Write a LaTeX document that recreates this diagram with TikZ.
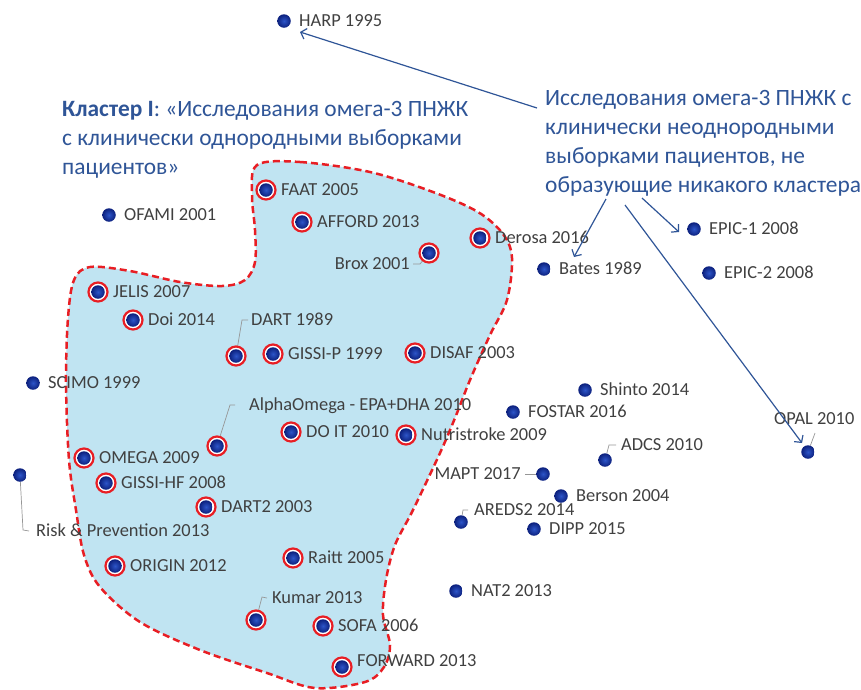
\documentclass[tikz,border=0pt]{standalone}
\usepackage{fontspec}
\setmainfont{Carlito}
\usetikzlibrary{arrows.meta,calc,backgrounds}
\definecolor{txtblue}{RGB}{47,85,151}
\definecolor{lblgray}{RGB}{64,64,64}
\definecolor{ringred}{RGB}{232,30,36}
\definecolor{blobfill}{RGB}{192,228,242}
\definecolor{dotin}{RGB}{45,85,200}
\definecolor{dotout}{RGB}{12,32,125}
\definecolor{leadgray}{RGB}{150,150,150}
\tikzset{
 dot/.style={circle, inner sep=0pt, minimum size=13.5pt, inner color=dotin, outer color=dotout},
 ring/.style={circle, inner sep=0pt, minimum size=19pt, draw=ringred, line width=2.2pt, fill=white},
 lbl/.style={anchor=west, inner sep=0pt, text=lblgray, font=\fontsize{18.4}{20}\selectfont, text height=11.8pt, text depth=0pt},
 leader/.style={draw=leadgray, line width=0.7pt},
 pointer/.style={draw=txtblue, line width=1.2pt, -{Straight Barb[length=5pt,width=11pt]}},
 heading/.style={align=left, inner sep=0pt, text=txtblue, font=\fontsize{23.4}{28.7}\selectfont},
 blob/.style={fill=blobfill, draw=ringred, line width=2.5pt, dash pattern=on 7pt off 4pt},
}
\newcommand\plainstudy[4]{\node[dot] (#1) at (#2,#3) {}; \node[lbl] (#1-l) at ([xshift=15pt]#1.center) {#4};}
\newcommand\ringstudy[4]{\node[ring] (#1-r) at (#2,#3) {}; \node[dot] (#1) at (#2,#3) {}; \node[lbl] (#1-l) at ([xshift=15pt]#1.center) {#4};}
\begin{document}
\begin{tikzpicture}[x=1pt,y=-1pt]
\useasboundingbox (0,0) rectangle (861,689);
\begin{scope}[on background layer]
\draw[blob] plot[smooth cycle, tension=0.55] coordinates {
 (257,165) (300,162) (370,172) (433,192) (478,212) (503,234) (512,258) (507,300) (490,335)
 (470,380) (455,418) (440,453) (413,510) (395,545) (386,580) (383,615) (390,645) (384,667)
 (365,682) (315,688) (267,673) (200,650) (140,622) (100,587) (84,555) (76,510) (69,460)
 (66,383) (68,318) (74,280) (90,267) (130,271) (180,282) (222,286) (245,280) (255,262)
 (255,230) (252,195)};
\end{scope}
% headings (base anchor = baseline of the last line)
\node[heading, anchor=base west] (cl1) at (62,174) {\textbf{Кластер I}: «Исследования омега-3 ПНЖК\\с клинически однородными выборками\\пациентов»};
\node[heading, anchor=base west] (other) at (545,192) {Исследования омега-3 ПНЖК с\\клинически неоднородными\\выборками пациентов, не\\образующие никакого кластера};
% studies
\plainstudy{harp}{284}{21}{HARP 1995}
\plainstudy{ofami}{109}{215}{OFAMI 2001}
\ringstudy{faat}{266}{190}{FAAT 2005}
\ringstudy{afford}{302}{222}{AFFORD 2013}
\ringstudy{derosa}{480}{238}{Derosa 2016}
\node[ring] (brox-r) at (429,253) {}; \node[dot] (brox) at (429,253) {};
\node[lbl, anchor=east] (brox-l) at (410,264) {Brox 2001};
\plainstudy{bates}{544}{269}{Bates 1989}
\plainstudy{epica}{694}{229}{EPIC-1 2008}
\plainstudy{epicb}{709}{273}{EPIC-2 2008}
\ringstudy{jelis}{98}{292}{JELIS 2007}
\ringstudy{doi}{133}{320}{Doi 2014}
\node[ring] (dart-r) at (236,356) {}; \node[dot] (dart) at (236,356) {};
\node[lbl] (dart-l) at (251,320) {DART 1989};
\ringstudy{gissip}{273}{354}{GISSI-P 1999}
\ringstudy{disaf}{415}{353}{DISAF 2003}
\plainstudy{scimo}{33}{383}{SCIMO 1999}
\node[ring] (alpha-r) at (217,446) {}; \node[dot] (alpha) at (217,446) {};
\node[lbl] (alpha-l) at (249,405) {AlphaOmega - EPA+DHA 2010};
\ringstudy{doit}{291}{432}{DO IT 2010}
\ringstudy{nutri}{406}{435}{Nutristroke 2009}
\ringstudy{omega}{84}{458}{OMEGA 2009}
\ringstudy{gissihf}{106}{483}{GISSI-HF 2008}
\ringstudy{dart2}{206}{507}{DART2 2003}
\node[dot] (risk) at (20,475) {};
\node[lbl] (risk-l) at (36,531) {Risk \& Prevention 2013};
\ringstudy{origin}{115}{566}{ORIGIN 2012}
\ringstudy{raitt}{293}{558}{Raitt 2005}
\node[ring] (kumar-r) at (256,620) {}; \node[dot] (kumar) at (256,620) {};
\node[lbl] (kumar-l) at (272,598) {Kumar 2013};
\ringstudy{sofa}{323}{626}{SOFA 2006}
\node[ring] (forward-r) at (342,667) {}; \node[dot] (forward) at (342,667) {};
\node[lbl] (forward-l) at (357,661) {FORWARD 2013};
\plainstudy{shinto}{585}{390}{Shinto 2014}
\plainstudy{fostar}{513}{412}{FOSTAR 2016}
\node[dot] (opal) at (808,452) {};
\node[lbl] (opal-l) at (774,419) {OPAL 2010};
\node[dot] (adcs) at (605,460) {};
\node[lbl] (adcs-l) at (621,445) {ADCS 2010};
\node[dot] (mapt) at (543,474) {};
\node[lbl, anchor=east] (mapt-l) at (521,474) {MAPT 2017};
\plainstudy{berson}{561}{496}{Berson 2004}
\node[dot] (areds) at (461,522) {};
\node[lbl] (areds-l) at (474,510) {AREDS2 2014};
\plainstudy{dipp}{534}{529}{DIPP 2015}
\plainstudy{nat}{456}{591}{NAT2 2013}
% leader lines
\begin{scope}[on background layer]
\draw[leader] (brox) -- (420,264) -- ([xshift=3pt]brox-l.east);
\draw[leader] (dart) -- (242,320) -- ([xshift=-3pt]dart-l.west);
\draw[leader] (alpha) -- (230,405) -- ([xshift=-14pt]alpha-l.west);
\draw[leader] (risk) -- (23,530) -- ([xshift=-7pt]risk-l.west);
\draw[leader] (kumar) -- (262,597) -- ([xshift=-5pt]kumar-l.west);
\draw[leader] (opal) -- (815,433);
\draw[leader] (adcs) -- (609,445) -- ([xshift=-5pt]adcs-l.west);
\draw[leader] (mapt) -- ([xshift=4pt]mapt-l.east);
\draw[leader] (areds) -- (463,510) -- ([xshift=-6pt]areds-l.west);
\end{scope}
% pointers
\coordinate (s1) at (537,108);
\coordinate (s2) at (606,199);
\coordinate (s3) at (625,205);
\coordinate (s4) at (642,198);
\draw[pointer] (s1) -- ([shift={(16,11)}]harp.center);
\draw[pointer] (s2) -- ([shift={(30,-12)}]bates.center);
\draw[pointer] (s3) -- ([shift={(-6,-9)}]opal.center);
\draw[pointer] (s4) -- ([shift={(-15,3)}]epica.center);
\end{tikzpicture}
\end{document}
